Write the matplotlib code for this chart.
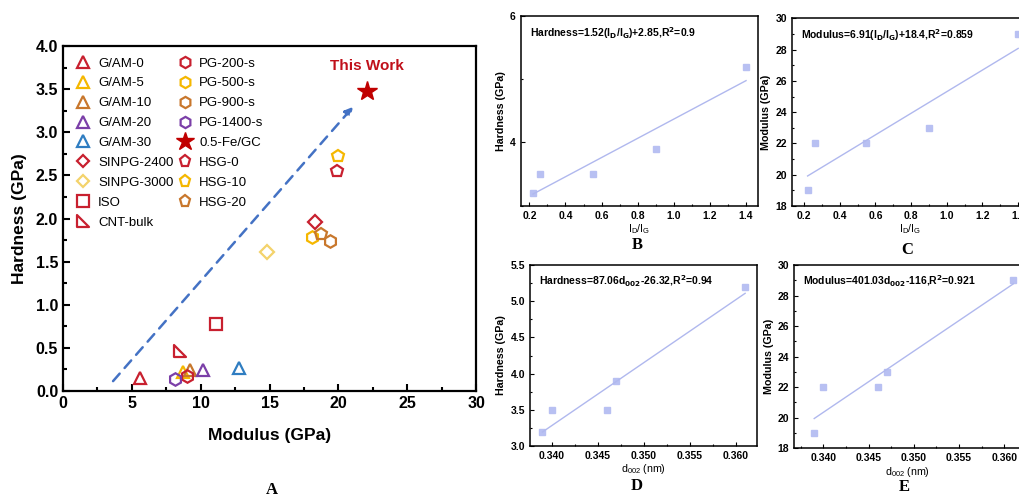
import numpy as np
import matplotlib
matplotlib.use('Agg')
import matplotlib.pyplot as plt
from matplotlib.path import Path
from matplotlib.ticker import MultipleLocator

plt.rcParams['font.family'] = ['Liberation Sans', 'DejaVu Sans']
plt.rcParams['mathtext.fontset'] = 'dejavusans'

# Panel A: literature comparison
labels = ['G/AM-0', 'G/AM-5', 'G/AM-10', 'G/AM-20', 'G/AM-30', 'SINPG-2400',
          'SINPG-3000', 'ISO', 'CNT-bulk', 'PG-200-s', 'PG-500-s', 'PG-900-s',
          'PG-1400-s', '0.5-Fe/GC', 'HSG-0', 'HSG-10', 'HSG-20']
modulus = [5.6, 8.7, 9.2, 10.2, 12.8, 18.3, 14.8, 11.1, 8.5, 9.0, 18.05, 19.4,
           8.1, 22.1, 19.9, 20.0, 18.7]
hardness = [0.15, 0.22, 0.24, 0.24, 0.27, 1.96, 1.61, 0.78, 0.46, 0.17, 1.79, 1.74,
            0.14, 3.48, 2.55, 2.72, 1.82]

# Panels B-E: this work
id_ig = [0.22, 0.26, 0.55, 0.90, 1.40]
d002 = [0.339, 0.340, 0.346, 0.347, 0.361]
hard_w = [3.2, 3.5, 3.5, 3.9, 5.2]
mod_w = [19, 22, 22, 23, 29]

red = '#c8202f'
yel = '#f5b700'
org = '#c8772c'
pur = '#7b3fa8'
blu = '#2f7dc1'
lyel = '#f3d36b'
star = '#c00000'

rtri = Path([(-1, 1), (-1, -1), (1, -1), (-1, 1)], closed=True)
styles = [('^', red), ('^', yel), ('^', org), ('^', pur), ('^', blu),
          ('D', red), ('D', lyel), ('s', red), (rtri, red),
          ('h', red), ('h', yel), ('h', org), ('h', pur), ('*', star),
          ('p', red), ('p', yel), ('p', org)]

fig = plt.figure(figsize=(10.2, 4.97), dpi=100)

ax = fig.add_axes([0.0618, 0.2133, 0.405, 0.694])
for lab, x, y, (m, c) in zip(labels, modulus, hardness, styles):
    if m == '*':
        ax.plot(x, y, marker=m, ms=15, color=c, ls='none', label=lab)
    else:
        ms = 7 if m == 'D' else 9
        ax.plot(x, y, marker=m, ms=ms, mfc='none', mec=c, mew=1.6, ls='none', label=lab)

ax.annotate('', xy=(21.2, 3.32), xytext=(3.5, 0.09),
            arrowprops=dict(arrowstyle='-|>', color='#4472c4', lw=1.8, ls=(0, (4, 3)),
                            mutation_scale=12))
ax.text(22.1, 3.77, 'This Work', color='#c0101a', fontsize=11, fontweight='bold',
        ha='center', va='center')

ax.set_xlim(0, 30)
ax.set_ylim(0, 4)
ax.xaxis.set_major_locator(MultipleLocator(5))
ax.xaxis.set_minor_locator(MultipleLocator(2.5))
ax.yaxis.set_major_locator(MultipleLocator(0.5))
ax.yaxis.set_minor_locator(MultipleLocator(0.25))
ax.tick_params(which='both', direction='in', width=1.5, labelsize=11.5)
ax.tick_params(which='major', length=5)
ax.tick_params(which='minor', length=3)
for lbl in ax.get_xticklabels() + ax.get_yticklabels():
    lbl.set_fontweight('bold')
for s in ax.spines.values():
    s.set_linewidth(1.6)
ax.set_xlabel('Modulus (GPa)', fontsize=12.5, fontweight='bold', labelpad=12)
ax.set_ylabel('Hardness (GPa)', fontsize=12.5, fontweight='bold', labelpad=6)
ax.legend(loc='upper left', ncol=2, frameon=False, fontsize=9.5, labelspacing=0.58,
          handletextpad=0.4, columnspacing=0.15, handlelength=1.4,
          borderaxespad=0.45, markerscale=0.9)


def small(rect, x, y, slope, icpt, xlim, ylim, xmaj, xmin, ymaj, ymin, text, ylab, xlab, fmt):
    a = fig.add_axes(rect)
    a.plot(x, y, 's', color='#b8c0f2', ms=4.5)
    xs = np.array([min(x), max(x)])
    a.plot(xs, slope * xs + icpt, color='#b0b8ee', lw=1)
    a.set_xlim(*xlim)
    a.set_ylim(*ylim)
    a.xaxis.set_major_locator(MultipleLocator(xmaj))
    a.xaxis.set_minor_locator(MultipleLocator(xmin))
    a.yaxis.set_major_locator(MultipleLocator(ymaj))
    a.yaxis.set_minor_locator(MultipleLocator(ymin))
    a.xaxis.set_major_formatter(fmt)
    a.tick_params(which='both', direction='in', width=0.8, labelsize=7.5)
    a.tick_params(which='major', length=3)
    a.tick_params(which='minor', length=1.5)
    for lbl in a.get_xticklabels() + a.get_yticklabels():
        lbl.set_fontweight('bold')
    for s in a.spines.values():
        s.set_linewidth(1.1)
    a.text(0.04, 0.91, text, transform=a.transAxes, fontsize=7.5, fontweight='bold',
           va='center')
    a.set_ylabel(ylab, fontsize=7.7, fontweight='bold', labelpad=3)
    a.set_xlabel(xlab, fontsize=7.7, labelpad=1)
    return a


idlab = r'I$_\mathregular{D}$/I$_\mathregular{G}$'
dlab = r'd$_\mathregular{002}$ (nm)'
f1 = matplotlib.ticker.FormatStrFormatter('%.1f')
f3 = matplotlib.ticker.FormatStrFormatter('%.3f')

small([0.5105, 0.5861, 0.2326, 0.3817], id_ig, hard_w, 1.52, 2.85, (0.152, 1.466), (3, 6),
      0.2, 0.1, 2, 1,
      r'Hardness=1.52(I$_\mathbf{D}$/I$_\mathbf{G}$)+2.85,R$^\mathbf{2}$=0.9',
      'Hardness (GPa)', idlab, f1)
small([0.7762, 0.5855, 0.2325, 0.3777], id_ig, mod_w, 6.91, 18.4, (0.131, 1.46), (18, 30),
      0.2, 0.1, 2, 1,
      r'Modulus=6.91(I$_\mathbf{D}$/I$_\mathbf{G}$)+18.4,R$^\mathbf{2}$=0.859',
      'Modulus (GPa)', idlab, f1)
small([0.5196, 0.1026, 0.2222, 0.3642], d002, hard_w, 87.06, -26.32, (0.33765, 0.36225),
      (3.0, 5.5), 0.005, 0.0025, 0.5, 0.25,
      r'Hardness=87.06d$_\mathbf{002}$-26.32,R$^\mathbf{2}$=0.94',
      'Hardness (GPa)', dlab, f3)
small([0.7787, 0.098, 0.222, 0.3688], d002, mod_w, 401.03, -116, (0.3368, 0.3618),
      (18, 30), 0.005, 0.0025, 2, 1,
      r'Modulus=401.03d$_\mathbf{002}$-116,R$^\mathbf{2}$=0.921',
      'Modulus (GPa)', dlab, f3)

for t, x, y in [('A', 0.2664, 0.014), ('B', 0.6245, 0.508), ('C', 0.889, 0.497),
                ('D', 0.624, 0.022), ('E', 0.887, 0.02)]:
    fig.text(x, y, t, fontsize=12, fontweight='bold', family='Liberation Serif',
             ha='center', va='center')

fig.savefig('out.png', dpi=100)
